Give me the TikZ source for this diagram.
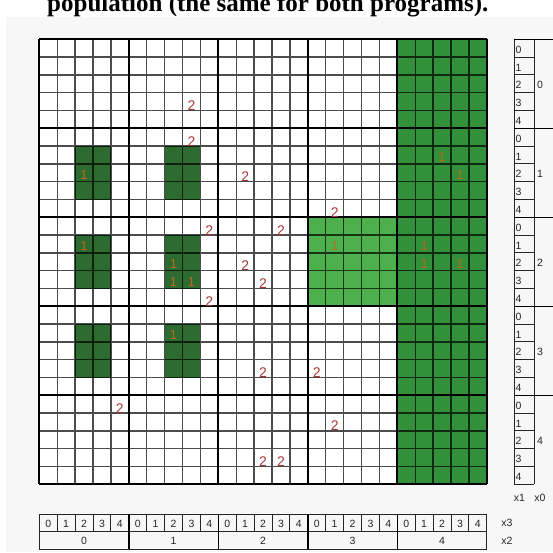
\documentclass[tikz,border=0pt]{standalone}
\usepackage{fontspec}
\setmainfont{Liberation Serif}
\setsansfont{Liberation Sans}
\usetikzlibrary{calc}
\definecolor{pagegray}{HTML}{F7F7F7}
\definecolor{colgreen}{HTML}{33903A}
\definecolor{blockgreen}{HTML}{4DB04D}
\definecolor{patchgreen}{HTML}{2E6B30}
\definecolor{twored}{HTML}{A83838}
\definecolor{oneorange}{HTML}{B86A1E}
\def\gx{39.3}
\def\gy{39.3}
\def\cw{17.9}
\def\ch{17.8}

\begin{document}
\begin{tikzpicture}[x=1pt,y=-1pt,font=\sffamily\fontsize{10.5}{10.5}\selectfont]
  \tikzset{minorline/.style={black, opacity=0.7, line width=1.4pt},
    majorline/.style={black, line width=2pt},
    tabline/.style={black!85, line width=1pt},
    tabmajor/.style={black, line width=1.6pt},
    twomark/.style={text=twored, font=\sffamily\fontsize{14}{14}\selectfont, inner sep=0pt, anchor=base},
    onemark/.style={text=oneorange, font=\sffamily\fontsize{13}{13}\selectfont, inner sep=0pt, anchor=base},
    digit/.style={inner sep=0pt, text=black!85}}
  \useasboundingbox (0,0) rectangle (553,552);
  \clip (0,0) rectangle (553,552);
  \fill[pagegray] (6,16.5) rectangle (553,552);
  \node[anchor=base west, inner sep=0pt, font=\rmfamily\bfseries\fontsize{25}{25}\selectfont] (title) at (47,11) {population (the same for both programs).};
  % grid cells
  \fill[white] (\gx,\gy) rectangle ({\gx+25*\cw},{\gy+25*\ch});
  \fill[colgreen] ({\gx+20*\cw},\gy) rectangle ({\gx+25*\cw},{\gy+25*\ch});
  \fill[blockgreen] ({\gx+15*\cw},{\gy+10*\ch}) rectangle ({\gx+20*\cw},{\gy+15*\ch});
  \foreach \c in {2,7}
    \foreach \r in {6,11,16}
      \fill[patchgreen] ({\gx+\c*\cw},{\gy+\r*\ch}) rectangle ({\gx+(\c+2)*\cw},{\gy+(\r+3)*\ch});
  \draw[minorline] \foreach \i in {0,...,25} {({\gx+\i*\cw},\gy) -- ({\gx+\i*\cw},{\gy+25*\ch}) (\gx,{\gy+\i*\ch}) -- ({\gx+25*\cw},{\gy+\i*\ch})};
  \draw[majorline] \foreach \i in {0,5,...,25} {({\gx+\i*\cw},\gy) -- ({\gx+\i*\cw},{\gy+25*\ch}) (\gx,{\gy+\i*\ch}) -- ({\gx+25*\cw},{\gy+\i*\ch})};
  % marks in the cells
  \foreach \c/\r in {8/3,8/5,11/7,16/9,9/10,13/10,11/12,12/13,9/14,12/18,15/18,4/20,16/21,12/23,13/23}
    \node[twomark] (two-\c-\r) at ({\gx+(\c+0.5)*\cw},{\gy+(\r+1)*\ch}) {2};
  \foreach \c/\r in {22/6,2/7,23/7,2/11,16/11,21/11,7/12,21/12,23/12,7/13,8/13,7/16}
    \node[onemark] (one-\c-\r) at ({\gx+(\c+0.5)*\cw},{\gy+(\r+1)*\ch-2}) {1};
  % right table (x1, x0)
  \draw[tabline] (514,\gy) -- (514,{\gy+25*\ch}) (534,\gy) -- (534,{\gy+25*\ch}) (514,{\gy+25*\ch}) -- (534,{\gy+25*\ch});
  \draw[tabline] \foreach \r in {1,...,24} {(514,{\gy+\r*\ch}) -- (534,{\gy+\r*\ch})};
  \draw[tabmajor] \foreach \r in {0,5,...,20} {(514,{\gy+\r*\ch}) -- (553,{\gy+\r*\ch})};
  \foreach \b in {0,...,4} {
    \foreach \d in {0,...,4}
      \node[digit, anchor=base west] (row-\b-\d) at (515.5,{\gy+(5*\b+\d+0.5)*\ch+5}) {\d};
    \node[digit, anchor=base west] (rowblock-\b) at (537,{\gy+(5*\b+2.5)*\ch+5}) {\b};
  }
  \node[digit, anchor=base] (xone) at (519.5,501.5) {x1};
  \node[digit, anchor=base] (xzero) at (540,501.5) {x0};
  % bottom table (x3, x2)
  \draw[tabline] (\gx,514.3) rectangle ({\gx+25*\cw},549.3) (\gx,531.7) -- ({\gx+25*\cw},531.7);
  \draw[tabline] \foreach \i in {1,...,24} {({\gx+\i*\cw},514.3) -- ({\gx+\i*\cw},531.7)};
  \draw[tabmajor] \foreach \i in {5,10,...,20} {({\gx+\i*\cw},514.3) -- ({\gx+\i*\cw},549.3)};
  \foreach \b in {0,...,4} {
    \foreach \d in {0,...,4}
      \node[digit, anchor=base] (col-\b-\d) at ({\gx+(5*\b+\d+0.5)*\cw},527.3) {\d};
    \node[digit, anchor=base] (colblock-\b) at ({\gx+(5*\b+2.5)*\cw},544.8) {\b};
  }
  \node[digit, anchor=base] (xthree) at (507,526.8) {x3};
  \node[digit, anchor=base] (xtwo) at (507,544.8) {x2};
\end{tikzpicture}
\end{document}
